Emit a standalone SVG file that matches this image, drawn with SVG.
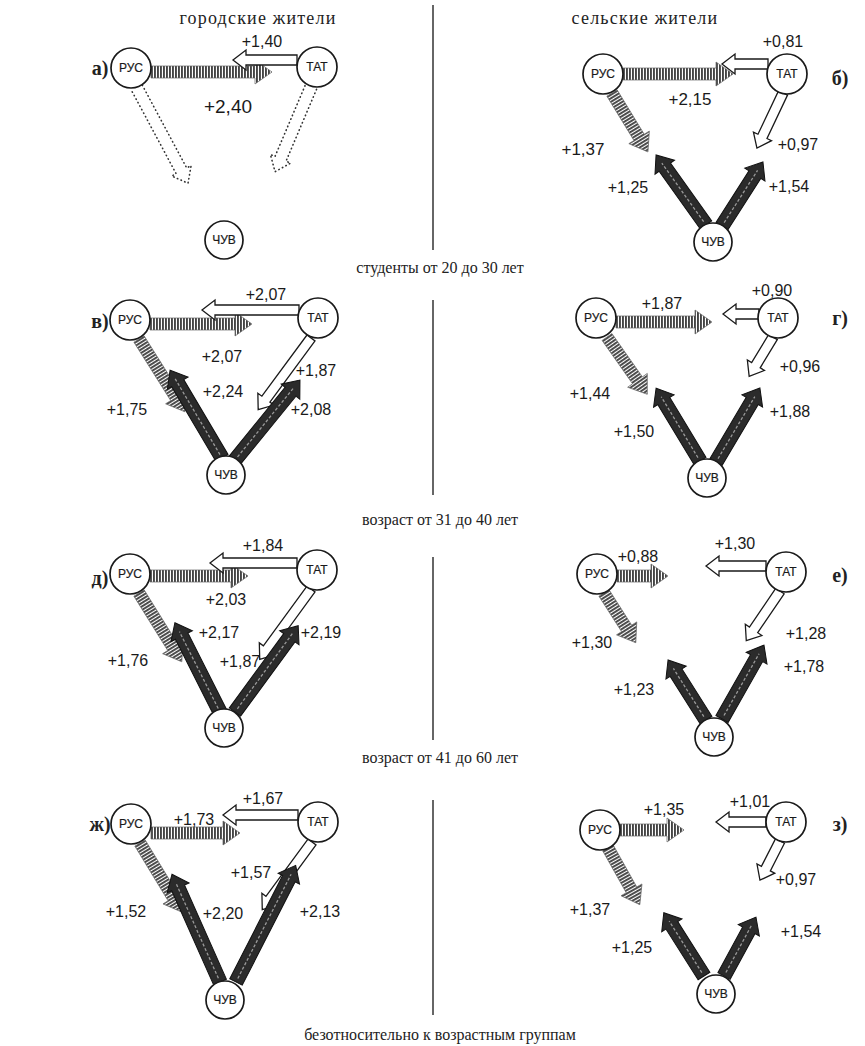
<svg xmlns="http://www.w3.org/2000/svg" width="865" height="1046" viewBox="0 0 865 1046">
<defs>
<pattern id="hatch" width="3" height="4" patternUnits="userSpaceOnUse"><rect width="1.9" height="4" fill="#444"/></pattern>
<style>
.nd circle{fill:#fff;stroke:#1a1a1a;stroke-width:1.7}
.nd text{font-family:"Liberation Sans",Arial,sans-serif;font-size:12px;text-anchor:middle;fill:#1a1a1a;stroke:#1a1a1a;stroke-width:0.2}
.h{fill:url(#hatch);stroke:#666;stroke-width:0.7}
.w{fill:#fff;stroke:#1a1a1a;stroke-width:1.3}
.d{fill:#2b2b2b;stroke:#111;stroke-width:1}
.dl{fill:none;stroke:#999;stroke-width:1.3;stroke-dasharray:3 2}
.dt{fill:none;stroke:#333;stroke-width:1.6;stroke-dasharray:0.5 3.5;stroke-linecap:round}
.lb{font-family:"Liberation Sans",Arial,sans-serif;font-size:16px;fill:#1a1a1a;text-anchor:middle}
.cap{font-family:"Liberation Serif","Times New Roman",serif;font-size:16px;fill:#222;text-anchor:middle}
.hd{font-family:"Liberation Serif","Times New Roman",serif;font-size:18px;fill:#222;text-anchor:middle;letter-spacing:1.2px}
.pl{font-family:"Liberation Serif","Times New Roman",serif;font-size:20px;font-weight:bold;fill:#222;text-anchor:middle}
.dv{stroke:#333;stroke-width:1.5}
</style>
</defs>
<rect width="865" height="1046" fill="#fff"/>

<text class="hd" x="258" y="24">городские жители</text>
<text class="hd" x="645" y="24">сельские жители</text>
<text class="cap" x="440" y="273">студенты от 20 до 30 лет</text>
<text class="cap" x="440" y="525">возраст от 31 до 40 лет</text>
<text class="cap" x="440" y="763">возраст от 41 до 60 лет</text>
<text class="cap" x="440" y="1040">безотносительно к возрастным группам</text>

<g id="dividers">
<line class="dv" x1="433" y1="5" x2="433" y2="250"/>
<line class="dv" x1="433" y1="300" x2="433" y2="495"/>
<line class="dv" x1="433" y1="557" x2="433" y2="740"/>
<line class="dv" x1="433" y1="800" x2="433" y2="1015"/>
</g>

<!-- Panel a -->
<g id="panel-a">
<text class="pl" x="100" y="75">а)</text>
<g id="a-connectors">
<path class="h" transform="translate(151,72)" d="M0,-6H104V-12L121,0L104,12V6H0Z"/>
<path class="w" transform="translate(297,60) rotate(180)" d="M0,-5H51V-10L64,0L51,10V5H0Z"/>
<path class="dt" transform="translate(137,88) rotate(61.8)" d="M0,-6H94V-11L108,0L94,11V6H0"/>
<path class="dt" transform="translate(311,87) rotate(113)" d="M0,-6H78V-11L92,0L78,11V6H0"/>
</g>
<g id="a-rus" class="nd"><circle cx="131" cy="68" r="20"/><text x="131" y="72">РУС</text></g>
<g id="a-tat" class="nd"><circle cx="317" cy="67" r="20"/><text x="317" y="71">ТАТ</text></g>
<g id="a-chuv" class="nd"><circle cx="224" cy="240" r="19"/><text x="224" y="244">ЧУВ</text></g>
<text class="lb" x="262" y="47">+1,40</text>
<text class="lb" x="228" y="113" style="font-size:19px">+2,40</text>
</g>

<!-- Panel b -->
<g id="panel-b">
<text class="pl" x="840" y="85">б)</text>
<g id="b-connectors">
<path class="h" transform="translate(623,74)" d="M0,-6H93V-12L110,0L93,12V6H0Z"/>
<path class="h" transform="translate(612,93) rotate(58.6)" d="M0,-6H52V-12L69,0L52,12V6H0Z"/>
<path class="w" transform="translate(768,64) rotate(180)" d="M0,-5H33V-10L46,0L33,10V5H0Z"/>
<path class="w" transform="translate(783,93) rotate(115.3)" d="M0,-5H48V-10L61,0L48,10V5H0Z"/>
<g transform="translate(706,225) rotate(-125.5)"><path class="d" d="M0,-7H71V-12L86,0L71,12V7H0Z"/><path class="dl" d="M4,0H76"/></g>
<g transform="translate(722,226) rotate(-57.4)"><path class="d" d="M0,-7H61V-12L76,0L61,12V7H0Z"/><path class="dl" d="M4,0H66"/></g>
</g>
<g id="b-rus" class="nd"><circle cx="603" cy="74" r="20"/><text x="603" y="78">РУС</text></g>
<g id="b-tat" class="nd"><circle cx="787" cy="74" r="20"/><text x="787" y="78">ТАТ</text></g>
<g id="b-chuv" class="nd"><circle cx="713" cy="242" r="19"/><text x="713" y="246">ЧУВ</text></g>
<text class="lb" x="783" y="47">+0,81</text>
<text class="lb" x="690" y="105" style="font-size:17px">+2,15</text>
<text class="lb" x="583" y="155" style="font-size:17px">+1,37</text>
<text class="lb" x="798" y="150">+0,97</text>
<text class="lb" x="628" y="193">+1,25</text>
<text class="lb" x="789" y="192">+1,54</text>
</g>

<!-- Panel v -->
<g id="panel-v">
<text class="pl" x="100" y="328">в)</text>
<g id="v-connectors">
<path class="h" transform="translate(150,324)" d="M0,-6H85V-12L102,0L85,12V6H0Z"/>
<path class="h" transform="translate(139,339) rotate(57.8)" d="M0,-6H69V-12L86,0L69,12V6H0Z"/>
<path class="w" transform="translate(299,310) rotate(180)" d="M0,-5H84V-10L97,0L84,10V5H0Z"/>
<path class="w" transform="translate(311,338) rotate(126.4)" d="M0,-5H76V-10L89,0L76,10V5H0Z"/>
<g transform="translate(222,458) rotate(-120.6)"><path class="d" d="M0,-7H87V-12L102,0L87,12V7H0Z"/><path class="dl" d="M4,0H92"/></g>
<g transform="translate(235,460) rotate(-50.9)"><path class="d" d="M0,-7H88V-12L103,0L88,12V7H0Z"/><path class="dl" d="M4,0H93"/></g>
</g>
<g id="v-rus" class="nd"><circle cx="130" cy="320" r="20"/><text x="130" y="324">РУС</text></g>
<g id="v-tat" class="nd"><circle cx="318" cy="318" r="20"/><text x="318" y="322">ТАТ</text></g>
<g id="v-chuv" class="nd"><circle cx="226" cy="475" r="19"/><text x="226" y="479">ЧУВ</text></g>
<text class="lb" x="266" y="300">+2,07</text>
<text class="lb" x="222" y="362">+2,07</text>
<text class="lb" x="127" y="415">+1,75</text>
<text class="lb" x="223" y="397">+2,24</text>
<text class="lb" x="316" y="376">+1,87</text>
<text class="lb" x="311" y="415">+2,08</text>
</g>

<!-- Panel g -->
<g id="panel-g">
<text class="pl" x="840" y="325">г)</text>
<g id="g-connectors">
<path class="h" transform="translate(616,322)" d="M0,-6H79V-12L96,0L79,12V6H0Z"/>
<path class="h" transform="translate(607,337) rotate(54.9)" d="M0,-6H53V-12L70,0L53,12V6H0Z"/>
<path class="w" transform="translate(759,314) rotate(180)" d="M0,-5H23V-10L36,0L23,10V5H0Z"/>
<path class="w" transform="translate(773,337) rotate(121.2)" d="M0,-5H33V-10L46,0L33,10V5H0Z"/>
<g transform="translate(700,461) rotate(-121.1)"><path class="d" d="M0,-7H70V-12L85,0L70,12V7H0Z"/><path class="dl" d="M4,0H75"/></g>
<g transform="translate(716,462) rotate(-59.3)"><path class="d" d="M0,-7H71V-12L86,0L71,12V7H0Z"/><path class="dl" d="M4,0H76"/></g>
</g>
<g id="g-rus" class="nd"><circle cx="596" cy="318" r="20"/><text x="596" y="322">РУС</text></g>
<g id="g-tat" class="nd"><circle cx="778" cy="318" r="20"/><text x="778" y="322">ТАТ</text></g>
<g id="g-chuv" class="nd"><circle cx="707" cy="478" r="19"/><text x="707" y="482">ЧУВ</text></g>
<text class="lb" x="662" y="309">+1,87</text>
<text class="lb" x="772" y="296">+0,90</text>
<text class="lb" x="800" y="372">+0,96</text>
<text class="lb" x="590" y="399">+1,44</text>
<text class="lb" x="634" y="437">+1,50</text>
<text class="lb" x="790" y="417">+1,88</text>
</g>

<!-- Panel d -->
<g id="panel-d">
<text class="pl" x="100" y="585">д)</text>
<g id="d-connectors">
<path class="h" transform="translate(150,576)" d="M0,-6H81V-12L98,0L81,12V6H0Z"/>
<path class="h" transform="translate(139,593) rotate(58.1)" d="M0,-6H64V-12L81,0L64,12V6H0Z"/>
<path class="w" transform="translate(297,563) rotate(180)" d="M0,-5H74V-10L87,0L74,10V5H0Z"/>
<path class="w" transform="translate(311,589) rotate(126.1)" d="M0,-5H74V-10L87,0L74,10V5H0Z"/>
<g transform="translate(220,712) rotate(-116.8)"><path class="d" d="M0,-7H85V-12L100,0L85,12V7H0Z"/><path class="dl" d="M4,0H90"/></g>
<g transform="translate(235,712) rotate(-53.8)"><path class="d" d="M0,-7H92V-12L107,0L92,12V7H0Z"/><path class="dl" d="M4,0H97"/></g>
</g>
<g id="d-rus" class="nd"><circle cx="130" cy="574" r="20"/><text x="130" y="578">РУС</text></g>
<g id="d-tat" class="nd"><circle cx="317" cy="570" r="20"/><text x="317" y="574">ТАТ</text></g>
<g id="d-chuv" class="nd"><circle cx="224" cy="728" r="19"/><text x="224" y="732">ЧУВ</text></g>
<text class="lb" x="263" y="551">+1,84</text>
<text class="lb" x="226" y="605">+2,03</text>
<text class="lb" x="128" y="666">+1,76</text>
<text class="lb" x="219" y="638">+2,17</text>
<text class="lb" x="240" y="667">+1,87</text>
<text class="lb" x="321" y="638">+2,19</text>
</g>

<!-- Panel e -->
<g id="panel-e">
<text class="pl" x="840" y="582">е)</text>
<g id="e-connectors">
<path class="h" transform="translate(617,576)" d="M0,-6H34V-12L51,0L34,12V6H0Z"/>
<path class="h" transform="translate(604,593) rotate(57.4)" d="M0,-6H42V-12L59,0L42,12V6H0Z"/>
<path class="w" transform="translate(766,566) rotate(180)" d="M0,-5H47V-10L60,0L47,10V5H0Z"/>
<path class="w" transform="translate(780,591) rotate(124.2)" d="M0,-5H47V-10L60,0L47,10V5H0Z"/>
<g transform="translate(722,719) rotate(-60.4)"><path class="d" d="M0,-7H70V-12L85,0L70,12V7H0Z"/><path class="dl" d="M4,0H75"/></g>
<g transform="translate(706,720) rotate(-122.3)"><path class="d" d="M0,-7H56V-12L71,0L56,12V7H0Z"/><path class="dl" d="M4,0H61"/></g>
</g>
<g id="e-rus" class="nd"><circle cx="597" cy="574" r="20"/><text x="597" y="578">РУС</text></g>
<g id="e-tat" class="nd"><circle cx="786" cy="572" r="20"/><text x="786" y="576">ТАТ</text></g>
<g id="e-chuv" class="nd"><circle cx="714" cy="737" r="19"/><text x="714" y="741">ЧУВ</text></g>
<text class="lb" x="638" y="562">+0,88</text>
<text class="lb" x="735" y="549">+1,30</text>
<text class="lb" x="592" y="648">+1,30</text>
<text class="lb" x="806" y="639">+1,28</text>
<text class="lb" x="804" y="672">+1,78</text>
<text class="lb" x="634" y="695">+1,23</text>
</g>

<!-- Panel zh -->
<g id="panel-zh">
<text class="pl" x="100" y="831">ж)</text>
<g id="zh-connectors">
<path class="h" transform="translate(151,833)" d="M0,-6H72V-12L89,0L72,12V6H0Z"/>
<path class="h" transform="translate(140,843) rotate(58.7)" d="M0,-6H64V-12L81,0L64,12V6H0Z"/>
<path class="w" transform="translate(298,815) rotate(180)" d="M0,-5H62V-10L75,0L62,10V5H0Z"/>
<path class="w" transform="translate(312,842) rotate(126.3)" d="M0,-5H71V-10L84,0L71,10V5H0Z"/>
<g transform="translate(220,982) rotate(-114)"><path class="d" d="M0,-7H103V-12L118,0L103,12V7H0Z"/><path class="dl" d="M4,0H108"/></g>
<g transform="translate(236,982) rotate(-62.9)"><path class="d" d="M0,-7H116V-12L131,0L116,12V7H0Z"/><path class="dl" d="M4,0H121"/></g>
</g>
<g id="zh-rus" class="nd"><circle cx="131" cy="824" r="20"/><text x="131" y="828">РУС</text></g>
<g id="zh-tat" class="nd"><circle cx="318" cy="822" r="20"/><text x="318" y="826">ТАТ</text></g>
<g id="zh-chuv" class="nd"><circle cx="225" cy="1000" r="19"/><text x="225" y="1004">ЧУВ</text></g>
<text class="lb" x="263" y="804">+1,67</text>
<text class="lb" x="194" y="825">+1,73</text>
<text class="lb" x="126" y="917">+1,52</text>
<text class="lb" x="223" y="919">+2,20</text>
<text class="lb" x="251" y="878">+1,57</text>
<text class="lb" x="320" y="917">+2,13</text>
</g>

<!-- Panel z -->
<g id="panel-z">
<text class="pl" x="840" y="831">з)</text>
<g id="z-connectors">
<path class="h" transform="translate(620,830)" d="M0,-6H47V-12L64,0L47,12V6H0Z"/>
<path class="h" transform="translate(608,848) rotate(60.7)" d="M0,-6H48V-12L65,0L48,12V6H0Z"/>
<path class="w" transform="translate(766,822) rotate(180)" d="M0,-5H37V-10L50,0L37,10V5H0Z"/>
<path class="w" transform="translate(780,841) rotate(117.1)" d="M0,-5H31V-10L44,0L31,10V5H0Z"/>
<g transform="translate(704,976) rotate(-122.4)"><path class="d" d="M0,-7H60V-12L75,0L60,12V7H0Z"/><path class="dl" d="M4,0H65"/></g>
<g transform="translate(724,976) rotate(-61.5)"><path class="d" d="M0,-7H52V-12L67,0L52,12V7H0Z"/><path class="dl" d="M4,0H57"/></g>
</g>
<g id="z-rus" class="nd"><circle cx="600" cy="830" r="20"/><text x="600" y="834">РУС</text></g>
<g id="z-tat" class="nd"><circle cx="786" cy="822" r="20"/><text x="786" y="826">ТАТ</text></g>
<g id="z-chuv" class="nd"><circle cx="716" cy="994" r="19"/><text x="716" y="998">ЧУВ</text></g>
<text class="lb" x="664" y="815">+1,35</text>
<text class="lb" x="750" y="807">+1,01</text>
<text class="lb" x="796" y="885">+0,97</text>
<text class="lb" x="590" y="915">+1,37</text>
<text class="lb" x="632" y="953">+1,25</text>
<text class="lb" x="801" y="937">+1,54</text>
</g>
</svg>
